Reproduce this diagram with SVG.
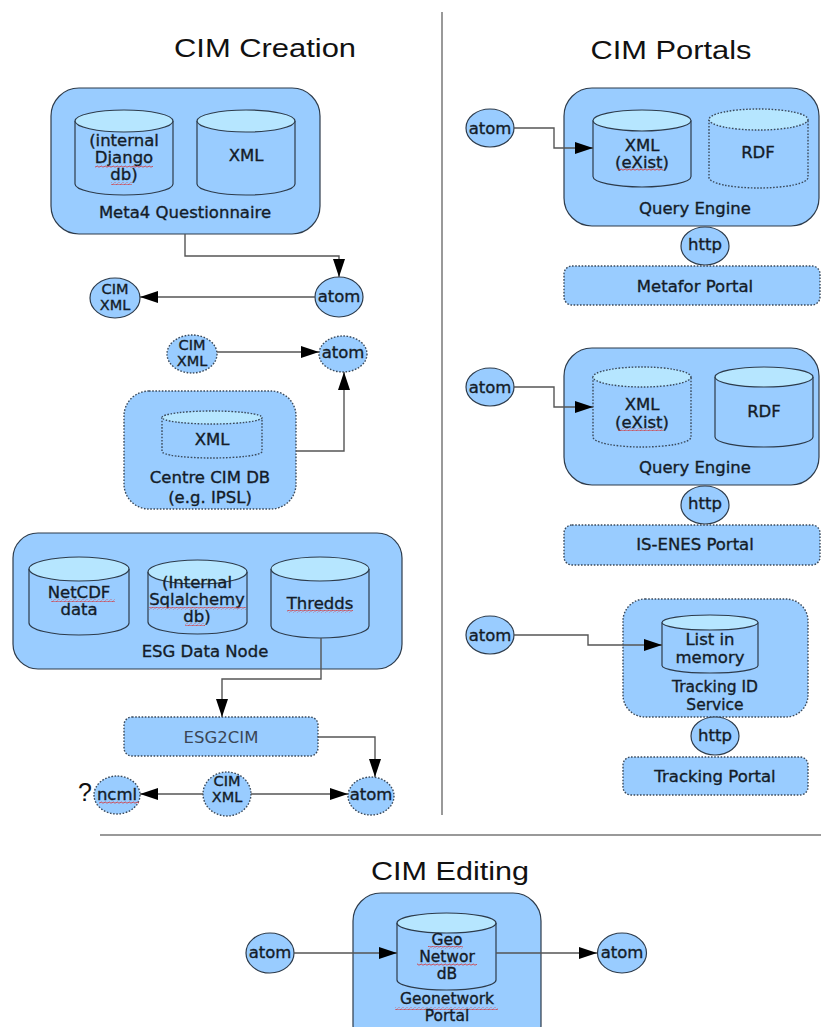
<svg xmlns="http://www.w3.org/2000/svg" width="821" height="1027" viewBox="0 0 821 1027">
<style>
.box{fill:#99ccff;stroke:#2d3b4b;stroke-width:1.2}
.dot{stroke-dasharray:1.6 1.6;stroke-width:1.4;stroke:#3a4a5c}
.top{fill:#b6e6ff}
.lbl{font-family:"DejaVu Sans","Liberation Sans",sans-serif;font-size:16.5px;fill:#141c28;stroke:#141c28;stroke-width:0.35;text-anchor:middle}
.sm{font-size:14.5px}
.md{font-size:15.5px}
.thin{font-family:"DejaVu Sans","Liberation Sans",sans-serif;font-size:16.5px;fill:#3a4656;text-anchor:middle}
.ttl{font-family:"Liberation Sans",Arial,sans-serif;font-size:25px;fill:#111;text-anchor:middle}
.con{fill:none;stroke:#555;stroke-width:1.4;marker-end:url(#arr)}
.div{stroke:#777;stroke-width:1.5;fill:none}
.sq{fill:url(#wave)}
</style>
<defs>
<marker id="arr" markerUnits="userSpaceOnUse" markerWidth="18" markerHeight="12" refX="18" refY="6" orient="auto">
<path d="M0,0 L18,6 L0,12 z" fill="#000"/>
</marker>
<pattern id="wave" patternUnits="userSpaceOnUse" width="4" height="3">
<path d="M0,2 Q1,0 2,1.5 T4,1.5" fill="none" stroke="#d83030" stroke-width="0.8"/>
</pattern>
</defs>

<g id="dividers">
<line class="div" x1="442" y1="12" x2="442" y2="815"/>
<line class="div" x1="100" y1="835" x2="821" y2="835"/>
</g>

<g id="titles">
<text class="ttl" x="265" y="57" textLength="182" lengthAdjust="spacingAndGlyphs">CIM Creation</text>
<text class="ttl" x="671" y="59" textLength="161" lengthAdjust="spacingAndGlyphs">CIM Portals</text>
<text class="ttl" x="450" y="880" textLength="158" lengthAdjust="spacingAndGlyphs">CIM Editing</text>
</g>

<g id="meta4">
<rect class="box" x="51" y="88" width="269" height="146" rx="28"/>
<path class="box" d="M75,121 V184 A49,11 0 0 0 173,184 V121"/>
<ellipse class="box top" cx="124" cy="121" rx="49" ry="11"/>
<path class="box" d="M197,121 V184 A49,11 0 0 0 295,184 V121"/>
<ellipse class="box top" cx="246" cy="121" rx="49" ry="11"/>
<text class="lbl" x="124" y="146">(internal</text>
<text class="lbl" x="124" y="163">Django</text>
<text class="lbl" x="124" y="180">db)</text>
<rect class="sq" x="95" y="165" width="58" height="3"/>
<rect class="sq" x="111" y="182" width="21" height="3"/>
<text class="lbl" x="246" y="161">XML</text>
<text class="lbl" x="185" y="218">Meta4 Questionnaire</text>
</g>

<g id="atom1">
<ellipse class="box" cx="339" cy="297" rx="24" ry="20"/>
<text class="lbl" x="339" y="302">atom</text>
</g>
<g id="cimxml1">
<ellipse class="box" cx="115" cy="298" rx="25" ry="20"/>
<text class="lbl sm" x="115" y="294">CIM</text>
<text class="lbl sm" x="115" y="310">XML</text>
</g>
<g id="cimxml2">
<ellipse class="box dot" cx="192" cy="354" rx="25" ry="19"/>
<text class="lbl sm" x="192" y="350">CIM</text>
<text class="lbl sm" x="192" y="366">XML</text>
</g>
<g id="atom2">
<ellipse class="box dot" cx="343" cy="354" rx="24" ry="18"/>
<text class="lbl" x="343" y="358">atom</text>
</g>

<g id="centre">
<rect class="box dot" x="124" y="391" width="172" height="118" rx="25"/>
<path class="box dot" d="M162,417.5 V451.5 A50,6.5 0 0 0 262,451.5 V417.5"/>
<ellipse class="box dot top" cx="212" cy="417.5" rx="50" ry="6.5"/>
<text class="lbl" x="212" y="445">XML</text>
<text class="lbl" x="210" y="483">Centre CIM DB</text>
<text class="lbl" x="210" y="503">(e.g. IPSL)</text>
</g>

<g id="esg">
<rect class="box" x="13" y="533" width="389" height="136" rx="25"/>
<path class="box" d="M29,569 V623 A50,12 0 0 0 129,623 V569"/>
<ellipse class="box top" cx="79" cy="569" rx="50" ry="12"/>
<path class="box" d="M148,572 V622 A49.5,12 0 0 0 247,622 V572"/>
<ellipse class="box top" cx="197.5" cy="572" rx="49.5" ry="12"/>
<path class="box" d="M271,569 V626 A49,12 0 0 0 369,626 V569"/>
<ellipse class="box top" cx="320" cy="569" rx="49" ry="12"/>
<text class="lbl" x="79" y="598">NetCDF</text>
<text class="lbl" x="79" y="615">data</text>
<rect class="sq" x="51" y="599" width="64" height="3"/>
<text class="lbl" x="197" y="588">(Internal</text>
<text class="lbl" x="197" y="605">Sqlalchemy</text>
<text class="lbl" x="197" y="622">db)</text>
<rect class="sq" x="149" y="607" width="97" height="3"/>
<rect class="sq" x="185" y="623" width="20" height="3"/>
<text class="lbl" x="320" y="609">Thredds</text>
<rect class="sq" x="287" y="610" width="66" height="3"/>
<text class="lbl" x="205" y="657">ESG Data Node</text>
</g>

<g id="esg2cim">
<rect class="box dot" x="124" y="717" width="194" height="39" rx="8"/>
<text class="thin" x="221" y="743">ESG2CIM</text>
</g>

<g id="ncml">
<ellipse class="box dot" cx="117" cy="795" rx="23" ry="19"/>
<text class="lbl" x="117" y="800">ncml</text>
<rect class="sq" x="99" y="801" width="40" height="3"/>
<text x="85" y="801" style="font-family:'Liberation Sans',Arial,sans-serif;font-size:25px;fill:#111;text-anchor:middle">?</text>
</g>
<g id="cimxml3">
<ellipse class="box dot" cx="227" cy="794" rx="24" ry="22"/>
<text class="lbl sm" x="227" y="786">CIM</text>
<text class="lbl sm" x="227" y="802">XML</text>
</g>
<g id="atom3">
<ellipse class="box dot" cx="371" cy="796" rx="23" ry="19"/>
<text class="lbl" x="371" y="800">atom</text>
</g>

<g id="atomA">
<ellipse class="box" cx="490" cy="128" rx="24" ry="19"/>
<text class="lbl" x="490" y="134">atom</text>
</g>
<g id="qe1">
<rect class="box" x="564" y="88" width="255" height="138" rx="28"/>
<path class="box" d="M593,120.5 V176.5 A49,10.5 0 0 0 691,176.5 V120.5"/>
<ellipse class="box top" cx="642" cy="120.5" rx="49" ry="10.5"/>
<path class="box dot" d="M709,119.5 V177.5 A49.5,10.5 0 0 0 808,177.5 V119.5"/>
<ellipse class="box dot top" cx="758.5" cy="119.5" rx="49.5" ry="10.5"/>
<text class="lbl" x="642" y="151">XML</text>
<text class="lbl" x="642" y="168">(eXist)</text>
<rect class="sq" x="618" y="168" width="45" height="3"/>
<text class="lbl" x="758" y="158">RDF</text>
<text class="lbl" x="695" y="214">Query Engine</text>
</g>
<g id="http1">
<ellipse class="box" cx="705" cy="246" rx="24" ry="19"/>
<text class="lbl" x="705" y="250">http</text>
</g>
<g id="metafor">
<rect class="box dot" x="564" y="266" width="256" height="39" rx="8"/>
<text class="lbl" x="695" y="292">Metafor Portal</text>
</g>

<g id="atomB">
<ellipse class="box" cx="490" cy="387" rx="24" ry="19"/>
<text class="lbl" x="490" y="393">atom</text>
</g>
<g id="qe2">
<rect class="box" x="564" y="348" width="255" height="137" rx="28"/>
<path class="box dot" d="M593,377 V437 A49,10 0 0 0 691,437 V377"/>
<ellipse class="box dot top" cx="642" cy="377" rx="49" ry="10"/>
<path class="box" d="M715,377 V437 A49,10 0 0 0 813,437 V377"/>
<ellipse class="box top" cx="764" cy="377" rx="49" ry="10"/>
<text class="lbl" x="642" y="410">XML</text>
<text class="lbl" x="642" y="428">(eXist)</text>
<rect class="sq" x="618" y="428" width="45" height="3"/>
<text class="lbl" x="764" y="417">RDF</text>
<text class="lbl" x="695" y="473">Query Engine</text>
</g>
<g id="http2">
<ellipse class="box" cx="705" cy="505" rx="24" ry="19"/>
<text class="lbl" x="705" y="509">http</text>
</g>
<g id="isenes">
<rect class="box dot" x="564" y="525" width="256" height="40" rx="8"/>
<text class="lbl" x="695" y="550">IS-ENES Portal</text>
</g>

<g id="atomC">
<ellipse class="box" cx="490" cy="635" rx="24" ry="19"/>
<text class="lbl" x="490" y="641">atom</text>
</g>
<g id="tracking">
<rect class="box dot" x="623" y="599" width="185" height="118" rx="22"/>
<path class="box" d="M662,622.5 V665.5 A48,7.5 0 0 0 758,665.5 V622.5"/>
<ellipse class="box top" cx="710" cy="622.5" rx="48" ry="7.5"/>
<text class="lbl" x="710" y="645">List in</text>
<text class="lbl" x="710" y="663">memory</text>
<text class="lbl md" x="715" y="692">Tracking ID</text>
<text class="lbl md" x="715" y="710">Service</text>
</g>
<g id="http3">
<ellipse class="box" cx="715" cy="736" rx="24" ry="19"/>
<text class="lbl" x="715" y="741">http</text>
</g>
<g id="trackingportal">
<rect class="box dot" x="623" y="757" width="185" height="38" rx="8"/>
<text class="lbl" x="715" y="782">Tracking Portal</text>
</g>

<g id="atomL">
<ellipse class="box" cx="270" cy="953" rx="24" ry="20"/>
<text class="lbl" x="270" y="958">atom</text>
</g>
<g id="geonetwork">
<rect class="box" x="353" y="893" width="188" height="160" rx="28"/>
<path class="box" d="M397,923 V980 A49.5,10 0 0 0 496,980 V923"/>
<ellipse class="box top" cx="446.5" cy="923" rx="49.5" ry="10"/>
<text class="lbl md" x="447" y="945">Geo</text>
<text class="lbl md" x="447" y="962">Networ</text>
<text class="lbl md" x="447" y="979">dB</text>
<rect class="sq" x="428" y="946" width="35" height="3"/>
<rect class="sq" x="417" y="963" width="60" height="3"/>
<text class="lbl md" x="447" y="1004">Geonetwork</text>
<rect class="sq" x="395" y="1007" width="103" height="3"/>
<text class="lbl md" x="447" y="1021">Portal</text>
</g>
<g id="atomR">
<ellipse class="box" cx="622" cy="953" rx="24.5" ry="20"/>
<text class="lbl" x="622" y="958">atom</text>
</g>

<g id="connectors">
<path class="con" d="M185,234 V256 H339 V277"/>
<path class="con" d="M315,297 H140"/>
<path class="con" d="M217,352 H319"/>
<path class="con" d="M296,451 H344 V372"/>
<path class="con" d="M321,638 V679 H222 V717"/>
<path class="con" d="M318,737 H375 V777"/>
<path class="con" d="M203,794 H140"/>
<path class="con" d="M251,794 H348"/>
<path class="con" d="M514,128 H554 V148 H593"/>
<path class="con" d="M514,387 H554 V407 H593"/>
<path class="con" d="M514,635 H588 V645 H662"/>
<path class="con" d="M294,953 H397"/>
<path class="con" d="M496,953 H597"/>
</g>
</svg>
